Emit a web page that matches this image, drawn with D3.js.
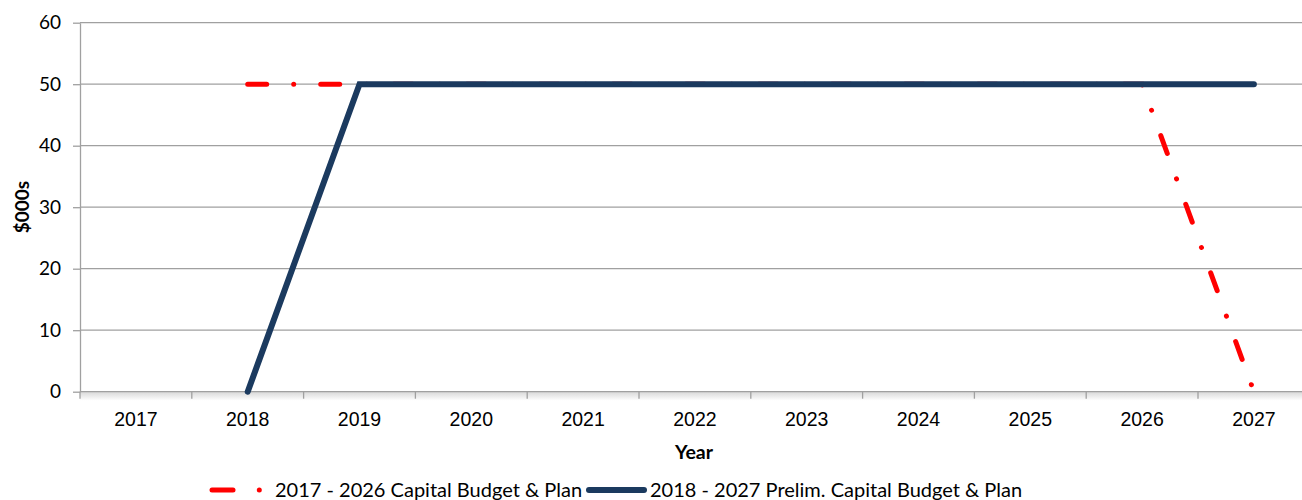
<!DOCTYPE html>
<html>
<head>
<meta charset="utf-8">
<script src="https://cdn.jsdelivr.net/npm/d3@7"></script>
<style>
  html, body { margin: 0; padding: 0; background: #fff; }
  svg { display: block; font-family: Lato, "Open Sans", sans-serif; }
</style>
</head>
<body>
<svg id="chart" width="1302" height="500"></svg>
<script>
const years = ["2017","2018","2019","2020","2021","2022","2023","2024","2025","2026","2027"];
const budget2017 = [null, 50, 50, 50, 50, 50, 50, 50, 50, 50, 0];
const prelim2018 = [null, 0, 50, 50, 50, 50, 50, 50, 50, 50, 50];
const yTicks = [0, 10, 20, 30, 40, 50, 60];
const seriesNames = ["2017 - 2026 Capital Budget & Plan", "2018 - 2027 Prelim. Capital Budget & Plan"];

(function () {
const svg = d3.select("#chart");
const mLeft = 80, mTop = 22.7, mBottom = 391.7, band = 111.8;
const x = d3.scaleBand().domain(years).range([mLeft, mLeft + band * years.length]).padding(0);
const y = d3.scaleLinear().domain([0, 60]).range([mBottom, mTop]);
const xc = d => x(d) + x.bandwidth() / 2;

// shadow under x-axis
const defs = svg.append("defs");
const grad = defs.append("linearGradient").attr("id", "shadow").attr("x1", 0).attr("x2", 0).attr("y1", 0).attr("y2", 1);
grad.append("stop").attr("offset", "0%").attr("stop-color", "#d8d8d8");
grad.append("stop").attr("offset", "100%").attr("stop-color", "#ffffff");
svg.append("rect").attr("x", mLeft).attr("y", mBottom).attr("width", 1302 - mLeft).attr("height", 9).attr("fill", "url(#shadow)");

// gridlines
svg.append("g").selectAll("line").data(yTicks.filter(t => t > 0)).join("line")
  .attr("x1", mLeft).attr("x2", 1302).attr("y1", d => y(d)).attr("y2", d => y(d))
  .attr("stroke", "#a0a0a0").attr("stroke-width", 1.3);

// y axis
const yAxis = svg.append("g").attr("transform", `translate(${mLeft},0)`)
  .call(d3.axisLeft(y).tickValues(yTicks).tickSize(7).tickSizeOuter(0).tickFormat(d3.format("d")));
yAxis.select(".domain").attr("stroke", "#a0a0a0").attr("stroke-width", 1.3);
yAxis.selectAll(".tick line").attr("stroke", "#a0a0a0").attr("stroke-width", 1.3);
yAxis.selectAll(".tick text").attr("font-size", 19).attr("fill", "#000").attr("x", -19).attr("font-family", "'Liberation Sans Narrow', Lato, sans-serif");

// x axis
const xAxis = svg.append("g").attr("transform", `translate(0,${mBottom})`)
  .call(d3.axisBottom(x).tickSize(0).tickSizeOuter(0));
xAxis.select(".domain").attr("stroke", "#a0a0a0").attr("stroke-width", 1.3).attr("d", `M${mLeft},0H1302`);
xAxis.selectAll(".tick text").attr("font-size", 19.5).attr("fill", "#000").attr("y", 20);
svg.append("g").selectAll("line").data(years).join("line")
  .attr("x1", d => x(d)).attr("x2", d => x(d)).attr("y1", mBottom).attr("y2", mBottom + 7)
  .attr("stroke", "#a0a0a0").attr("stroke-width", 1.3);

// axis titles
svg.append("text").attr("x", 694).attr("y", 459).attr("text-anchor", "middle")
  .attr("font-size", 19.5).attr("font-weight", "bold").text("Year");
svg.append("text").attr("transform", "translate(29,207) rotate(-90)").attr("text-anchor", "middle")
  .attr("font-size", 19).attr("font-weight", "bold").attr("font-family", "'Liberation Sans Narrow', Lato, sans-serif").text("$000s");

// lines
const line = d3.line().defined(d => d[1] != null).x(d => xc(d[0])).y(d => y(d[1]));
svg.append("path").datum(years.map((yr, i) => [yr, budget2017[i]]))
  .attr("d", line).attr("fill", "none").attr("stroke", "#ff0000").attr("stroke-width", 5)
  .attr("stroke-linecap", "round").attr("stroke-dasharray", "19,27,0.01,27");
svg.append("path").datum(years.map((yr, i) => [yr, prelim2018[i]]))
  .attr("d", line).attr("fill", "none").attr("stroke", "#1b3a5f").attr("stroke-width", 6)
  .attr("stroke-linecap", "round").attr("stroke-linejoin", "miter");

// legend
const lg = svg.append("g").attr("font-size", 20);
lg.append("line").attr("x1", 212).attr("x2", 233).attr("y1", 490).attr("y2", 490)
  .attr("stroke", "#ff0000").attr("stroke-width", 5).attr("stroke-linecap", "round");
lg.append("circle").attr("cx", 259.3).attr("cy", 490).attr("r", 2.5).attr("fill", "#ff0000");
lg.append("text").attr("x", 275).attr("y", 497).text(seriesNames[0]);
lg.append("line").attr("x1", 589).attr("x2", 644).attr("y1", 490).attr("y2", 490)
  .attr("stroke", "#1b3a5f").attr("stroke-width", 6).attr("stroke-linecap", "round");
lg.append("text").attr("x", 650).attr("y", 497).text(seriesNames[1]);
})();
</script>
</body>
</html>
